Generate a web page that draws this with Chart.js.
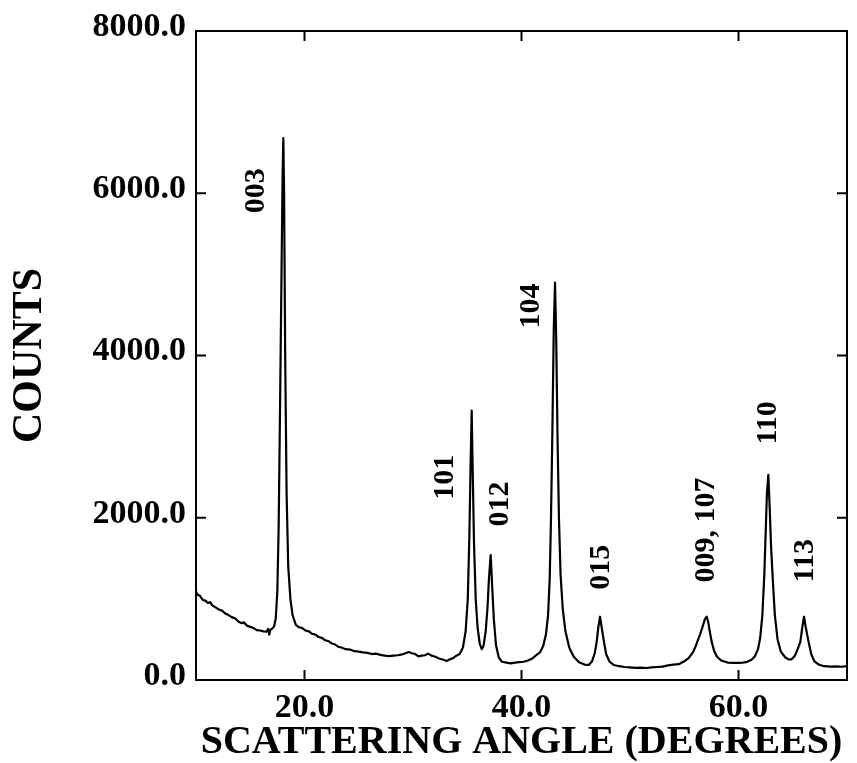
<!DOCTYPE html>
<html>
<head>
<meta charset="utf-8">
<title>XRD pattern</title>
<script src="https://cdn.jsdelivr.net/npm/chart.js@4.4.0/dist/chart.umd.min.js"></script>
<style>
    html, body { margin: 0; padding: 0; background: #fff; }
    #wrap { width: 857px; height: 763px; position: relative; }
</style>
</head>
<body>
<div id="wrap"><canvas id="xrdChart"></canvas></div>
<script>
// Scattering angle (degrees) and counts
const angles = [
    10.0, 10.15, 10.35, 10.6, 10.9, 11.1, 11.3, 11.5, 11.8, 12.1, 12.4, 12.7, 13.0, 13.3, 13.6,
    13.9, 14.2, 14.4, 14.7, 15.0, 15.3, 15.6, 15.9, 16.2, 16.5, 16.65, 16.75, 16.85, 17.0,
    17.2, 17.35, 17.5, 17.62, 17.75, 17.88, 17.98, 18.05, 18.12, 18.22, 18.35, 18.5, 18.7, 18.9, 19.2,
    19.5, 19.8, 20.1, 20.4, 20.7, 21.0, 21.3, 21.6, 21.9, 22.2, 22.5, 22.8, 23.1, 23.4, 23.8,
    24.2, 24.6, 25.0, 25.4, 25.8, 26.2, 26.6, 27.0, 27.4, 27.8, 28.2, 28.6, 29.0, 29.3, 29.6,
    29.9, 30.2, 30.5, 30.8, 31.1, 31.4, 31.7, 32.0, 32.4, 32.8, 33.1, 33.4, 33.7, 34.0,
    34.3, 34.6, 34.85, 35.05, 35.2, 35.3, 35.41, 35.5, 35.62, 35.78, 35.95, 36.15,
    36.33, 36.5, 36.7, 36.87, 37.0, 37.16, 37.3, 37.45, 37.65, 37.9, 38.2,
    38.6, 39.0, 39.4, 39.8, 40.2, 40.6, 41.0,
    41.3, 41.7, 42.0, 42.25, 42.45, 42.6, 42.72, 42.85, 42.97, 43.09,
    43.2, 43.32, 43.45, 43.6, 43.8, 44.05, 44.4, 44.8, 45.3, 45.8,
    46.2, 46.5, 46.75, 46.93, 47.08, 47.24, 47.4, 47.6, 47.8, 48.1, 48.5,
    49.0, 49.5, 50.0, 50.5, 51.0, 51.5, 52.0, 52.5, 53.0, 53.5, 54.0, 54.5,
    55.0, 55.4, 55.8, 56.0, 56.2, 56.45, 56.7, 56.9, 57.07, 57.2, 57.35, 57.53, 57.75, 58.0, 58.4, 59.0,
    59.5, 60.0, 60.4, 60.7,
    61.2, 61.5, 61.8, 62.0, 62.2, 62.38, 62.5, 62.62, 62.75, 62.88, 63.0, 63.15, 63.35, 63.6, 63.9, 64.3, 64.6,
    64.9, 65.2, 65.45, 65.7, 65.88, 66.04, 66.2, 66.46, 66.7, 67.0, 67.4, 67.9,
    68.5, 69.0, 69.5, 70.0
];
const counts = [
    1090, 1050, 1040, 990, 975, 950, 960, 920, 895, 870, 855, 820, 800, 775, 760,
    720, 700, 710, 670, 655, 640, 615, 610, 600, 595, 630, 560, 620, 630,
    660, 760, 1100, 1900, 3400, 5000, 6200, 6680, 6000, 4000, 2300, 1400, 1000, 800, 680,
    650, 640, 610, 600, 570, 560, 530, 520, 490, 480, 450, 440, 410, 400, 380,
    375, 355, 350, 340, 335, 320, 325, 310, 300, 295, 300, 305, 315, 330, 345,
    330, 320, 290, 300, 305, 325, 300, 290, 265, 250, 235, 255, 270, 300,
    320, 400, 600, 1000, 1800, 2600, 3320, 2600, 1700, 1000, 650, 450,
    380, 420, 600, 900, 1250, 1540, 1150, 750, 430, 280, 225,
    215, 205, 215, 220, 225, 240, 265,
    300, 340, 420, 560, 800, 1250, 2000, 3100, 4300, 4900,
    4200, 3000, 2000, 1300, 880, 600, 400, 290, 220, 190,
    185, 230, 330, 470, 650, 780, 640, 470, 320, 230, 185,
    170, 160, 155, 150, 152, 148, 155, 160, 165, 180, 190, 195,
    230, 270, 340, 400, 470, 560, 660, 750, 780, 720, 600, 470, 360, 290, 240, 215,
    210, 210, 215, 220,
    250, 290, 380, 520, 800, 1300, 1800, 2300, 2530, 2100, 1650, 1264, 800, 500, 350, 280, 255,
    255, 300, 380, 470, 650, 780, 650, 470, 320, 230, 190, 170,
    165, 168, 163, 170
];

// Axis ticks (labels shown on these values only)
const xTickLabels = [20, 40, 60];
const yTickLabels = [0, 2000, 4000, 6000, 8000];

// Reflection labels, centred at (angle, counts)
const peakNames = ['003', '101', '012', '104', '015', '009, 107', '110', '113'];
const peakAngles = [15.53, 32.95, 38.02, 40.88, 47.33, 57.0, 62.72, 66.13];
const peakCounts = [6030, 2500, 2170, 4610, 1390, 1850, 3170, 1470];

const serif = '"Liberation Serif", "Times New Roman", serif';

// Frame, inward tick marks and reflection labels
const framePlugin = {
    id: 'frameTicks',
    afterDraw(chart) {
        const ctx = chart.ctx;
        const area = chart.chartArea;
        const x = chart.scales.x;
        const y = chart.scales.y;

        ctx.save();
        ctx.strokeStyle = '#000';
        ctx.lineWidth = 2;
        ctx.strokeRect(area.left, area.top, area.right - area.left, area.bottom - area.top);

        ctx.beginPath();
        x.ticks.forEach(t => {
            const px = x.getPixelForValue(t.value);
            const len = xTickLabels.includes(t.value) ? 10 : 6;
            ctx.moveTo(px, area.bottom);
            ctx.lineTo(px, area.bottom - len);
            ctx.moveTo(px, area.top);
            ctx.lineTo(px, area.top + len);
        });
        y.ticks.forEach(t => {
            const py = y.getPixelForValue(t.value);
            const len = yTickLabels.includes(t.value) ? 10 : 6;
            ctx.moveTo(area.left, py);
            ctx.lineTo(area.left + len, py);
            ctx.moveTo(area.right, py);
            ctx.lineTo(area.right - len, py);
        });
        ctx.stroke();

        ctx.fillStyle = '#000';
        ctx.font = 'bold 30px ' + serif;
        ctx.textAlign = 'center';
        ctx.textBaseline = 'middle';
        peakNames.forEach((name, i) => {
            ctx.save();
            ctx.translate(x.getPixelForValue(peakAngles[i]), y.getPixelForValue(peakCounts[i]));
            ctx.rotate(-Math.PI / 2);
            ctx.fillText(name, 0, 0);
            ctx.restore();
        });
        ctx.restore();
    }
};

const ctx = document.getElementById('xrdChart');

new Chart(ctx, {
    type: 'line',
    data: {
        datasets: [{
            data: angles.map((a, i) => ({ x: a, y: counts[i] })),
            borderColor: '#000',
            borderWidth: 2.2,
            borderJoinStyle: 'round',
            pointRadius: 0,
            tension: 0,
            fill: false
        }]
    },
    options: {
        responsive: true,
        maintainAspectRatio: false,
        animation: false,
        devicePixelRatio: 1,
        layout: {
            padding: { left: 0, right: 10, top: 31, bottom: 0 }
        },
        plugins: {
            legend: { display: false },
            tooltip: { enabled: false }
        },
        scales: {
            x: {
                type: 'linear',
                min: 10,
                max: 70,
                afterFit: s => { s.height = 83; },
                grid: { display: false, drawTicks: false },
                border: { display: false },
                ticks: {
                    stepSize: 10,
                    autoSkip: false,
                    maxRotation: 0,
                    padding: 8,
                    color: '#000',
                    font: { family: serif, size: 34, weight: 'bold' },
                    callback: v => xTickLabels.includes(v) ? v.toFixed(1) : null
                },
                title: {
                    display: true,
                    text: 'SCATTERING ANGLE (DEGREES)',
                    color: '#000',
                    font: { family: serif, size: 40, weight: 'bold', lineHeight: 1 },
                    padding: { top: 0, bottom: 0 }
                }
            },
            y: {
                min: 0,
                max: 8000,
                afterFit: s => { s.width = 196; },
                grid: { display: false, drawTicks: false },
                border: { display: false },
                ticks: {
                    stepSize: 1000,
                    autoSkip: false,
                    padding: 10,
                    labelOffset: -4,
                    color: '#000',
                    font: { family: serif, size: 34, weight: 'bold' },
                    callback: v => yTickLabels.includes(v) ? v.toFixed(1) : null
                },
                title: {
                    display: true,
                    text: 'COUNTS',
                    color: '#000',
                    font: { family: serif, size: 42, weight: 'bold', lineHeight: 1 },
                    padding: { top: 9, bottom: 0 }
                }
            }
        }
    },
    plugins: [framePlugin]
});
</script>
</body>
</html>
